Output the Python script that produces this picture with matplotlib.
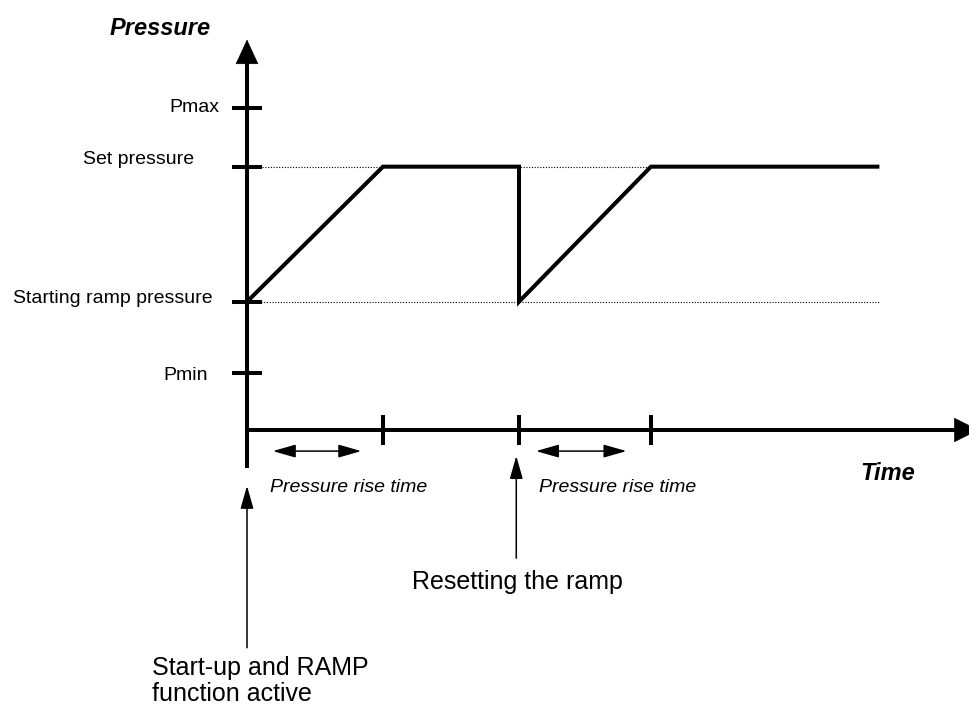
"""
Pressure ramp diagram: start-up ramp and reset of the ramp.
"""

import matplotlib.pyplot as plt

plt.rcParams.update({
    'font.family': ['Liberation Sans', 'DejaVu Sans', 'sans-serif'],
    'font.size': 14,
})

# Pressure levels on the vertical axis (arbitrary units)
level_names = ['Pmax', 'Set pressure', 'Starting ramp pressure', 'Pmin']
level_values = [5.65, 4.62, 2.25, 1.0]
P_MAX, P_SET, P_START, P_MIN = level_values

# Pressure curve over time (time unit = one pressure rise time)
curve_time = [0, 1, 2, 2, 2.97, 4.65]
curve_pressure = [P_START, P_SET, P_SET, P_START, P_SET, P_SET]

# Marks on the time axis and the rise-time intervals
time_ticks = [1, 2, 2.97]
rise_intervals = [(0.19, 0.84), (2.125, 2.79)]
rise_label_x = [0.17, 2.15]

# Event arrows below the axis: (time, bottom, tip)
events = [(0, -3.82, -0.98), (1.98, -2.25, -0.456)]

fig = plt.figure(figsize=(9.69, 7.07), dpi=100)
ax = fig.add_axes([0, 0, 1, 1])
ax.set_xlim(-247 / 136, (969 - 247) / 136)
ax.set_ylim(-277 / 57, 430 / 57)
ax.axis('off')

# Axes with arrow heads
ax.plot([0, 0], [-0.67, 6.5], color='black', lw=2.9, solid_capstyle='butt')
ax.annotate('', xy=(0, 6.85), xytext=(0, 6.3), annotation_clip=False,
            arrowprops=dict(arrowstyle='-|>,head_length=1.4,head_width=0.65',
                            mutation_scale=12, lw=0.5, color='black',
                            shrinkA=0, shrinkB=0))
ax.plot([0, 5.3], [0, 0], color='black', lw=2.9, solid_capstyle='butt')
ax.annotate('', xy=(5.38, 0), xytext=(5.0, 0), annotation_clip=False,
            arrowprops=dict(arrowstyle='-|>,head_length=1.4,head_width=0.7',
                            mutation_scale=12, lw=0.5, color='black',
                            shrinkA=0, shrinkB=0))

# Ticks on both axes
ax.plot([0] * len(level_values), level_values, ls='none', marker='_',
        ms=22, mew=2.9, color='black')
ax.plot(time_ticks, [0] * len(time_ticks), ls='none', marker='|',
        ms=21.5, mew=2.9, color='black')

# Dotted guide lines
ax.plot([0.11, 2.97], [P_SET, P_SET], color='black', lw=0.8, ls=(0, (1, 1.5)))
ax.plot([0, 4.65], [P_START, P_START], color='black', lw=0.8, ls=(0, (1, 1.5)))

# Pressure curve
ax.plot(curve_time, curve_pressure, color='black', lw=2.9,
        solid_joinstyle='miter', solid_capstyle='butt')

# Level labels
label_x = [-0.2, -0.39, -0.25, -0.29]
label_dy = [0.0, 0.12, 0.05, -0.04]
for name, val, lx, dy in zip(level_names, level_values, label_x, label_dy):
    ax.text(lx, val + dy, name, ha='right', va='center', fontsize=14)

# Rise-time double arrows
for (t0, t1), lx in zip(rise_intervals, rise_label_x):
    ax.annotate('', xy=(t1, -0.37), xytext=(t0, -0.37),
                arrowprops=dict(arrowstyle='<|-|>,head_length=1.4,head_width=0.4',
                                mutation_scale=10, lw=1.1, color='black',
                                shrinkA=0, shrinkB=0))
    ax.text(lx, -1.0, 'Pressure rise time', ha='left', va='center',
            fontsize=14, style='italic')

# Event arrows
for t, bottom, tip in events:
    ax.annotate('', xy=(t, tip), xytext=(t, bottom),
                arrowprops=dict(arrowstyle='-|>,head_length=1.4,head_width=0.4',
                                mutation_scale=10, lw=1.1, color='black',
                                shrinkA=0, shrinkB=0))

# Axis titles and annotations
ax.text(-0.64, 7.05, 'Pressure', ha='center', va='center', fontsize=17,
        fontweight='bold', style='italic')
ax.text(4.71, -0.77, 'Time', ha='center', va='center', fontsize=17,
        fontweight='bold', style='italic')
ax.text(1.21, -2.67, 'Resetting the ramp', ha='left', va='center', fontsize=18)
ax.text(-0.70, -4.40, 'Start-up and RAMP\nfunction active', ha='left',
        va='center', fontsize=18, linespacing=1.1)

fig.savefig('out.png', dpi=100)
